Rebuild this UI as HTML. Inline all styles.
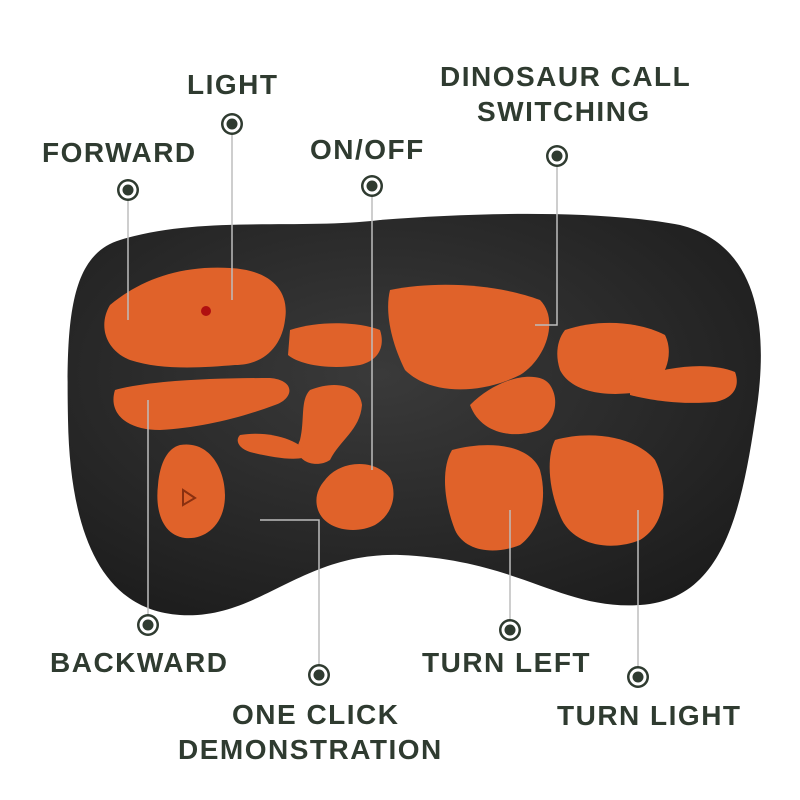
<!DOCTYPE html>
<html><head><meta charset="utf-8"><style>
html,body{margin:0;padding:0;background:#fff;}
.w{position:relative;width:800px;height:800px;overflow:hidden;background:#fff;font-family:"Liberation Sans",sans-serif;}
.t{position:absolute;font-weight:bold;font-size:28px;color:#2f3b30;letter-spacing:1.5px;white-space:nowrap;line-height:34px;}
svg{position:absolute;left:0;top:0;}
</style></head><body><div class="w">
<svg width="800" height="800" viewBox="0 0 800 800">
<defs>
<radialGradient id="g" cx="45%" cy="40%" r="70%"><stop offset="0" stop-color="#3a3a3a"/><stop offset="1" stop-color="#1c1c1c"/></radialGradient>
</defs>
<path d="M120 240 C200 215 300 230 380 220 C480 212 600 210 680 225 C760 245 770 330 755 420 C740 520 720 600 640 605 C560 610 520 560 400 555 C300 552 260 620 180 615 C100 610 70 530 68 420 C66 320 70 255 120 240 Z" fill="url(#g)"/>
<g fill="#e0622a">
<path d="M110 305 C140 280 180 265 230 268 C270 270 290 290 285 320 C282 345 265 365 235 365 C200 368 160 370 130 360 C105 350 98 325 110 305Z"/>
<path d="M115 390 C150 380 220 378 270 378 C295 380 295 398 275 405 C240 418 200 428 160 430 C125 430 108 412 115 390Z"/>
<path d="M290 330 C320 320 360 322 380 330 C385 345 380 360 360 365 C330 370 300 365 288 355Z"/>
<path d="M390 290 C440 280 500 285 540 300 C560 320 545 360 520 375 C480 395 430 395 405 370 C390 340 385 310 390 290Z"/>
<path d="M565 330 C600 318 640 322 665 335 C675 355 665 385 640 392 C600 398 570 390 560 370 C555 355 557 340 565 330Z"/>
<path d="M630 380 C670 365 710 362 735 372 C740 385 735 398 715 402 C680 405 650 400 630 395Z"/>
<path d="M470 405 C500 375 540 370 550 385 C560 400 555 420 540 430 C510 440 480 432 470 405Z"/>
<path d="M310 390 C335 380 360 385 362 405 C360 430 340 440 330 460 C315 470 290 460 300 440 C305 420 300 400 310 390Z"/>
<path d="M240 435 C270 430 300 440 310 455 C300 462 275 458 250 452 C238 448 235 440 240 435Z"/>
<path d="M180 445 C210 440 225 470 225 495 C225 525 205 540 185 538 C162 535 155 510 158 485 C160 462 168 448 180 445Z"/>
<path d="M325 480 C340 460 375 458 390 478 C398 495 392 515 375 525 C355 535 325 530 318 510 C314 498 318 488 325 480Z"/>
<path d="M452 450 C490 440 530 445 540 470 C548 500 540 530 520 545 C495 555 465 552 455 530 C445 505 440 470 452 450Z"/>
<path d="M555 440 C590 430 635 436 655 460 C670 490 665 525 640 540 C610 552 575 545 562 520 C550 495 545 460 555 440Z"/>
</g>
<circle cx="206" cy="311" r="5" fill="#b01010"/>
<path d="M183 490 L195 498 L183 505Z" fill="none" stroke="#8a3010" stroke-width="2"/>
<g stroke="#bdbdbd" stroke-width="1.5" fill="none">
<path d="M128 198 V245 L128 320"/>
<path d="M232 133 V300"/>
<path d="M372 195 V470"/>
<path d="M557 165 V325 H535"/>
<path d="M148 617 V400"/>
<path d="M319 667 V520 H260"/>
<path d="M510 622 V510"/>
<path d="M638 669 V510"/>
</g>
<g>
<g transform="translate(128,190)"><circle r="11" fill="#2f3b30"/><circle r="8.5" fill="#fff"/><circle r="5.5" fill="#2f3b30"/></g>
<g transform="translate(232,124)"><circle r="11" fill="#2f3b30"/><circle r="8.5" fill="#fff"/><circle r="5.5" fill="#2f3b30"/></g>
<g transform="translate(372,186)"><circle r="11" fill="#2f3b30"/><circle r="8.5" fill="#fff"/><circle r="5.5" fill="#2f3b30"/></g>
<g transform="translate(557,156)"><circle r="11" fill="#2f3b30"/><circle r="8.5" fill="#fff"/><circle r="5.5" fill="#2f3b30"/></g>
<g transform="translate(148,625)"><circle r="11" fill="#2f3b30"/><circle r="8.5" fill="#fff"/><circle r="5.5" fill="#2f3b30"/></g>
<g transform="translate(319,675)"><circle r="11" fill="#2f3b30"/><circle r="8.5" fill="#fff"/><circle r="5.5" fill="#2f3b30"/></g>
<g transform="translate(510,630)"><circle r="11" fill="#2f3b30"/><circle r="8.5" fill="#fff"/><circle r="5.5" fill="#2f3b30"/></g>
<g transform="translate(638,677)"><circle r="11" fill="#2f3b30"/><circle r="8.5" fill="#fff"/><circle r="5.5" fill="#2f3b30"/></g>
</g>
</svg>
<div class="t" style="left:187px;top:68px;">LIGHT</div>
<div class="t" style="left:42px;top:136px;">FORWARD</div>
<div class="t" style="left:310px;top:133px;">ON/OFF</div>
<div class="t" style="left:440px;top:60px;">DINOSAUR CALL</div>
<div class="t" style="left:477px;top:95px;">SWITCHING</div>
<div class="t" style="left:50px;top:646px;">BACKWARD</div>
<div class="t" style="left:232px;top:698px;">ONE CLICK</div>
<div class="t" style="left:178px;top:733px;">DEMONSTRATION</div>
<div class="t" style="left:422px;top:646px;">TURN LEFT</div>
<div class="t" style="left:557px;top:699px;">TURN LIGHT</div>
</div></body></html>
